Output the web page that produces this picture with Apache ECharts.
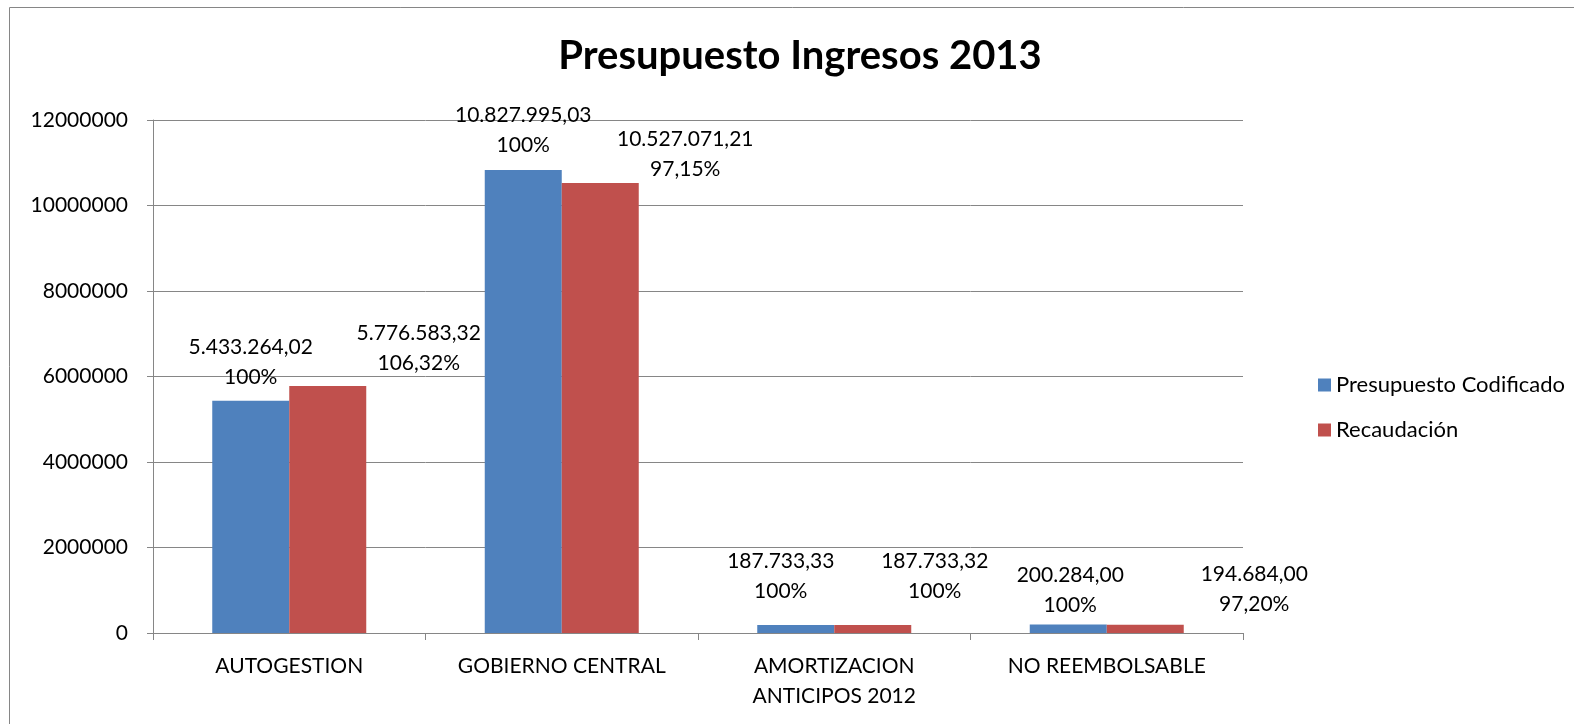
<!DOCTYPE html>
<html>
<head>
<meta charset="utf-8">
<script src="https://cdn.jsdelivr.net/npm/echarts@6/dist/echarts.min.js"></script>
<style>
html,body{margin:0;padding:0;background:#fff;}
#chart{width:1574px;height:724px;}
</style>
</head>
<body>
<div id="chart"></div>
<script>
const categories = ['AUTOGESTION', 'GOBIERNO CENTRAL', 'AMORTIZACION\nANTICIPOS 2012', 'NO REEMBOLSABLE'];
const seriesNames = ['Presupuesto Codificado', 'Recaudación'];
const presupuesto = [5433264.02, 10827995.03, 187733.33, 200284.00];
const recaudacion = [5776583.32, 10527071.21, 187733.32, 194684.00];
const presupuestoPct = ['100%', '100%', '100%', '100%'];
const recaudacionPct = ['106,32%', '97,15%', '100%', '97,20%'];
const yTicks = [0, 2000000, 4000000, 6000000, 8000000, 10000000, 12000000];

// label placement (style, not data)
const blueLabelOffset = [[0, -8], [0, -10], [-15, -19], [2, -4]];
const redLabelOffset = [[91, -8], [85, 1], [62, -19], [109, -5]];

const FONT = 'Lato';
function fmtEs(v) {
  const parts = v.toFixed(2).split('.');
  const intPart = parts[0].replace(/\B(?=(\d{3})+(?!\d))/g, '.');
  return intPart + ',' + parts[1];
}
function buildData(values, offsets) {
  return values.map((v, i) => ({ value: v, label: { offset: offsets[i] } }));
}
function labelCfg(pcts) {
  return {
    show: true,
    position: 'top',
    distance: 0,
    fontFamily: FONT,
    fontSize: 21,
    lineHeight: 30,
    color: '#000',
    align: 'center',
    formatter: p => fmtEs(p.value) + '\n' + pcts[p.dataIndex]
  };
}

const chart = echarts.init(document.getElementById('chart'), null, { renderer: 'canvas' });
chart.setOption({
  backgroundColor: '#fff',
  animation: false,
  textStyle: { fontFamily: FONT },
  title: {
    text: 'Presupuesto Ingresos 2013',
    left: 800,
    top: 36,
    padding: 0,
    textAlign: 'center',
    textStyle: { fontFamily: FONT, fontSize: 40, fontWeight: 'bold', color: '#000' }
  },
  graphic: [
    { type: 'line', shape: { x1: 9.5, y1: 7.5, x2: 9.5, y2: 800 }, style: { stroke: '#868686', lineWidth: 1 } },
    { type: 'line', shape: { x1: 9.5, y1: 7.5, x2: 1700, y2: 7.5 }, style: { stroke: '#868686', lineWidth: 1 } }
  ],
  legend: {
    orient: 'vertical',
    left: 1313,
    top: 368,
    icon: 'rect',
    itemWidth: 13,
    itemHeight: 13,
    itemGap: 21,
    textStyle: { fontFamily: FONT, fontSize: 22, lineHeight: 24, color: '#000' },
    data: seriesNames
  },
  grid: { left: 153, right: 331, top: 120, bottom: 91, containLabel: false },
  xAxis: {
    type: 'category',
    data: categories,
    boundaryGap: true,
    axisLine: { show: true, lineStyle: { color: '#868686', width: 1 } },
    axisTick: { show: true, alignWithLabel: false, length: 7, lineStyle: { color: '#868686' } },
    axisLabel: { fontFamily: FONT, fontSize: 21, lineHeight: 30, color: '#000', margin: 18, interval: 0 }
  },
  yAxis: {
    type: 'value',
    min: yTicks[0],
    max: yTicks[yTicks.length - 1],
    interval: yTicks[1] - yTicks[0],
    axisLine: { show: true, lineStyle: { color: '#868686', width: 1 } },
    axisTick: { show: true, length: 6, lineStyle: { color: '#868686' } },
    splitLine: { show: true, lineStyle: { color: '#868686', width: 1 } },
    axisLabel: { fontFamily: FONT, fontSize: 21, color: '#000', margin: 25, formatter: v => String(v) }
  },
  series: [
    {
      name: seriesNames[0],
      type: 'bar',
      barWidth: 77,
      barGap: '0%',
      itemStyle: { color: '#4F81BD' },
      label: labelCfg(presupuestoPct),
      data: buildData(presupuesto, blueLabelOffset)
    },
    {
      name: seriesNames[1],
      type: 'bar',
      barWidth: 77,
      barGap: '0%',
      itemStyle: { color: '#C0504D' },
      label: labelCfg(recaudacionPct),
      data: buildData(recaudacion, redLabelOffset)
    }
  ]
});
</script>
</body>
</html>
